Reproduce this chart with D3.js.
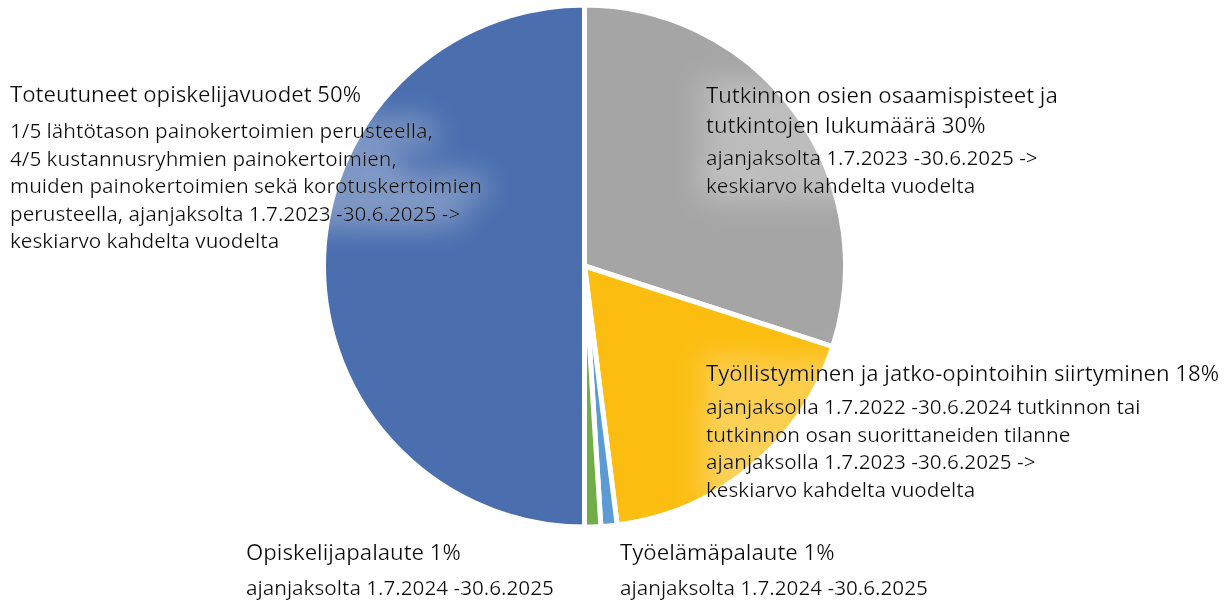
<!DOCTYPE html>
<html lang="fi">
<head>
<meta charset="UTF-8">
<title>Rahoituksen jakautuminen</title>
<style>
  body { margin: 0; background: #fff; }
  svg { display: block; }
  text { font-family: "Open Sans", "Liberation Sans", Arial, sans-serif; fill: #111; }
  .title { font-size: 22.2px; }
  .desc { font-size: 20.7px; }
</style>
</head>
<body>
<script src="https://cdn.jsdelivr.net/npm/d3@7"></script>
<script>
// order = clockwise from 12 o'clock
const categories = ["Tutkinnon osien osaamispisteet ja tutkintojen lukumäärä",
                    "Työllistyminen ja jatko-opintoihin siirtyminen",
                    "Työelämäpalaute",
                    "Opiskelijapalaute",
                    "Toteutuneet opiskelijavuodet"];
const values = [30, 18, 1, 1, 50];
const colors = ["#a5a5a5", "#fbbd0f", "#5b9bd5", "#70ad47", "#4a6eae"];
const titleLines = [
  ["Tutkinnon osien osaamispisteet ja", "tutkintojen lukumäärä 30%"],
  ["Työllistyminen ja jatko-opintoihin siirtyminen 18%"],
  ["Työelämäpalaute 1%"],
  ["Opiskelijapalaute 1%"],
  ["Toteutuneet opiskelijavuodet 50%"]
];
const descLines = [
  ["ajanjaksolta 1.7.2023 -30.6.2025 ->", "keskiarvo kahdelta vuodelta"],
  ["ajanjaksolla 1.7.2022 -30.6.2024 tutkinnon tai", "tutkinnon osan suorittaneiden tilanne",
   "ajanjaksolla 1.7.2023 -30.6.2025 ->", "keskiarvo kahdelta vuodelta"],
  ["ajanjaksolta 1.7.2024 -30.6.2025"],
  ["ajanjaksolta 1.7.2024 -30.6.2025"],
  ["1/5 lähtötason painokertoimien perusteella,", "4/5 kustannusryhmien painokertoimien,",
   "muiden painokertoimien sekä korotuskertoimien", "perusteella, ajanjaksolta 1.7.2023 -30.6.2025 ->",
   "keskiarvo kahdelta vuodelta"]
];

// label layout: x, first title baseline, first desc baseline
const labelPos = [
  { x: 706, ty: 103, dy: 165 },
  { x: 706, ty: 381, dy: 414 },
  { x: 620, ty: 560, dy: 595 },
  { x: 246, ty: 560, dy: 595 },
  { x: 10,  ty: 102, dy: 138 }
];

const w = 1227, h = 602;
const cx = 584.5, cy = 266, r = 261;

const svg = d3.select("body").append("svg").attr("width", w).attr("height", h);

const defs = svg.append("defs");
const glow = defs.append("filter").attr("id", "glow")
  .attr("x", "-20%").attr("y", "-60%").attr("width", "140%").attr("height", "220%");
glow.append("feMorphology").attr("in", "SourceAlpha").attr("operator", "dilate").attr("radius", 6).attr("result", "d");
glow.append("feGaussianBlur").attr("in", "d").attr("stdDeviation", 14).attr("result", "b");
glow.append("feFlood").attr("flood-color", "#fff").attr("flood-opacity", 0.32);
glow.append("feComposite").attr("in2", "b").attr("operator", "in").attr("result", "g");
const m = glow.append("feMerge");
m.append("feMergeNode").attr("in", "g");
m.append("feMergeNode").attr("in", "SourceGraphic");

const pie = d3.pie().sort(null).value(d => d)(values);
const arc = d3.arc().innerRadius(0).outerRadius(r);

svg.append("g").attr("transform", `translate(${cx},${cy})`)
  .selectAll("path")
  .data(pie)
  .join("path")
  .attr("d", arc)
  .attr("fill", (d, i) => colors[i])
  .attr("stroke", "#fff")
  .attr("stroke-width", 5)
  .attr("stroke-linejoin", "round");

const labels = svg.selectAll("g.label")
  .data(categories)
  .join("g")
  .attr("class", "label")
  .attr("filter", "url(#glow)");

labels.each(function (c, i) {
  const g = d3.select(this);
  const p = labelPos[i];
  titleLines[i].forEach((t, k) => {
    g.append("text").attr("class", "title").attr("x", p.x).attr("y", p.ty + k * 30).text(t);
  });
  descLines[i].forEach((t, k) => {
    g.append("text").attr("class", "desc").attr("x", p.x).attr("y", p.dy + k * 27.5).text(t);
  });
});
</script>
</body>
</html>
